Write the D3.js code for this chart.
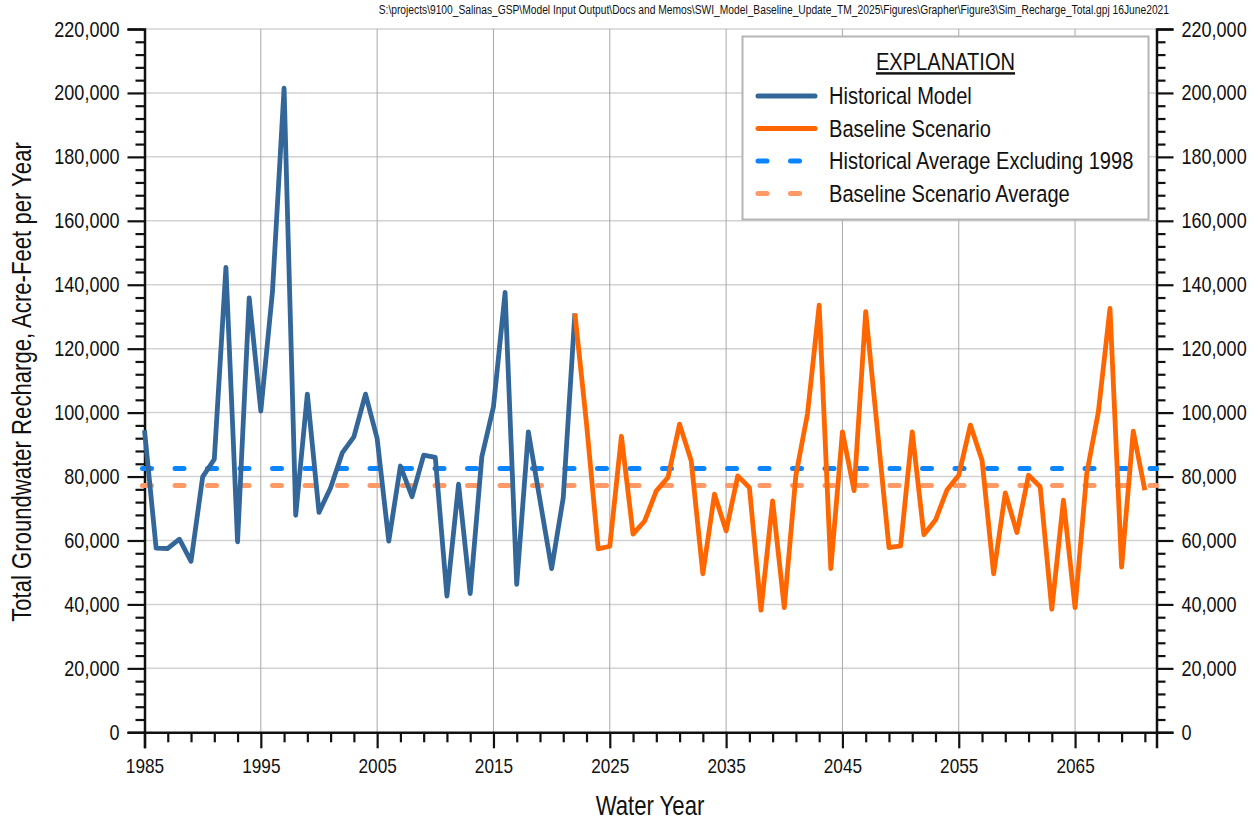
<!DOCTYPE html>
<html>
<head>
<meta charset="utf-8">
<script src="https://cdn.jsdelivr.net/npm/d3@7"></script>
<style>
body{margin:0;background:#fff;}
text{font-family:"Liberation Sans",Arial,sans-serif;fill:#111;}
</style>
</head>
<body>
<div id="chart"></div>
<script>

const histYears = d3.range(1985, 2023);
const histValues = [94500,57600,57500,60400,53500,79900,85400,145400,59600,135900,
100500,137800,201500,67900,105800,68800,76500,87400,92400,105800,
91900,59800,83300,73700,86700,86000,42600,77600,43400,86200,
101800,137600,46300,94000,72600,51200,73400,131000];

const baseYears = d3.range(2022, 2072);
const baseValues = [131000,96500,57400,58200,92600,62000,66100,75500,79700,96400,
84900,49600,74500,63000,80200,76600,38200,72400,39000,80400,
99700,133600,51200,94000,75600,131600,94800,57800,58300,94000,
61800,66400,75900,80400,96100,85100,49600,74900,62500,80400,
76800,38500,72600,39000,80900,100200,132600,51700,94200,75700];

const histAverage = 82500;
const baseAverage = 77200;

const xTicks = [1985,1995,2005,2015,2025,2035,2045,2055,2065];
const yTicks = d3.range(0, 220001, 20000);

const legendItems = [
 {label:"Historical Model", color:"#336699", dash:null},
 {label:"Baseline Scenario", color:"#ff6600", dash:null},
 {label:"Historical Average Excluding 1998", color:"#0a84ff", dash:"9,23.5"},
 {label:"Baseline Scenario Average", color:"#ff9966", dash:"9,23.5"}
];

const width = 1258;
const height = 822;

const plotLeft = 144.5, plotRight = 1156.5, plotTop = 29, plotBottom = 732.3;

// narrow look like Arial Narrow: squeeze text horizontally
const squeeze = 0.82;

const svg = d3.select("#chart")
 .append("svg")
 .attr("width", width)
 .attr("height", height);

const x = d3.scaleLinear().domain([1985, 2072]).range([plotLeft, plotRight]);
const y = d3.scaleLinear().domain([0, 220000]).range([plotBottom, plotTop]);

// GRID
svg.append("g")
 .selectAll("line")
 .data(yTicks.slice(1))
 .enter()
 .append("line")
 .attr("x1", plotLeft).attr("x2", plotRight)
 .attr("y1", d => y(d)).attr("y2", d => y(d))
 .attr("stroke", "#d2d2d2")
 .attr("stroke-width", 1.5);

svg.append("g")
 .selectAll("line")
 .data(xTicks.slice(1))
 .enter()
 .append("line")
 .attr("x1", d => x(d)).attr("x2", d => x(d))
 .attr("y1", plotTop).attr("y2", plotBottom)
 .attr("stroke", "#a8a8a8")
 .attr("stroke-width", 1);

// AXES
const fmt = d3.format(",");
const yMinor = d3.range(0, 220001, 4000).filter(d => d % 20000 !== 0);
const xMinor = d3.range(1985, 2073).filter(d => (d - 1985) % 10 !== 0 && (d - 1985) % 2 === 0);

const leftAxis = svg.append("g")
 .attr("transform", `translate(${plotLeft},0)`)
 .call(d3.axisLeft(y).tickValues(yTicks).tickFormat(fmt).tickSize(17).tickPadding(8));

const rightAxis = svg.append("g")
 .attr("transform", `translate(${plotRight},0)`)
 .call(d3.axisRight(y).tickValues(yTicks).tickFormat(fmt).tickSize(17).tickPadding(8));

const bottomAxis = svg.append("g")
 .attr("transform", `translate(0,${plotBottom})`)
 .call(d3.axisBottom(x).tickValues(xTicks).tickFormat(d3.format("d")).tickSize(16).tickPadding(10));

svg.append("g")
 .attr("transform", `translate(${plotLeft},0)`)
 .call(d3.axisLeft(y).tickValues(yMinor).tickFormat("").tickSize(9))
 .select(".domain").remove();

svg.append("g")
 .attr("transform", `translate(${plotRight},0)`)
 .call(d3.axisRight(y).tickValues(yMinor).tickFormat("").tickSize(9))
 .select(".domain").remove();

svg.append("g")
 .attr("transform", `translate(0,${plotBottom})`)
 .call(d3.axisBottom(x).tickValues(xMinor).tickFormat("").tickSize(10))
 .select(".domain").remove();

svg.selectAll(".domain").attr("stroke", "#111").attr("stroke-width", 2.5);
svg.selectAll(".tick line").attr("stroke", "#111").attr("stroke-width", 2.2);
svg.selectAll(".tick text")
 .style("font-family", "'Liberation Sans',Arial,sans-serif")
 .attr("fill", "#111");

leftAxis.selectAll(".tick text")
 .style("font-size", "22px")
 .attr("x", -25 / squeeze)
 .attr("transform", `scale(${squeeze},1)`);

rightAxis.selectAll(".tick text")
 .style("font-size", "22px")
 .attr("x", 25 / squeeze)
 .attr("transform", `scale(${squeeze},1)`);

bottomAxis.selectAll(".tick text")
 .style("font-size", "21px")
 .attr("transform", `scale(${squeeze},1)`);

// AVERAGES
svg.append("line")
 .attr("x1", x(1985) - 2).attr("x2", plotRight)
 .attr("y1", y(histAverage)).attr("y2", y(histAverage))
 .attr("stroke", "#0a84ff")
 .attr("stroke-width", 5)
 .attr("stroke-linecap", "round")
 .attr("stroke-dasharray", "9,23.5");

svg.append("line")
 .attr("x1", x(1985) - 2).attr("x2", plotRight)
 .attr("y1", y(baseAverage)).attr("y2", y(baseAverage))
 .attr("stroke", "#ff9966")
 .attr("stroke-width", 5)
 .attr("stroke-linecap", "round")
 .attr("stroke-dasharray", "9,23.5");

// LINES
const line = d3.line()
 .x(d => x(d[0]))
 .y(d => y(d[1]));

svg.append("path")
 .datum(histYears.map((yr, i) => [yr, histValues[i]]))
 .attr("d", line)
 .attr("fill", "none")
 .attr("stroke", "#336699")
 .attr("stroke-width", 4.8)
 .attr("stroke-linejoin", "round");

svg.append("path")
 .datum(baseYears.map((yr, i) => [yr, baseValues[i]]))
 .attr("d", line)
 .attr("fill", "none")
 .attr("stroke", "#ff6600")
 .attr("stroke-width", 4.8)
 .attr("stroke-linejoin", "round");

// TITLES
svg.append("text")
 .attr("x", 650 / squeeze)
 .attr("y", 815)
 .attr("transform", `scale(${squeeze},1)`)
 .attr("text-anchor", "middle")
 .style("font-size", "27px")
 .text("Water Year");

svg.append("text")
 .attr("transform", `rotate(-90) scale(${squeeze},1)`)
 .attr("x", -382 / squeeze)
 .attr("y", 31)
 .attr("text-anchor", "middle")
 .style("font-size", "27px")
 .text("Total Groundwater Recharge, Acre-Feet per Year");

svg.append("text")
 .attr("x", 1169 / squeeze)
 .attr("y", 14)
 .attr("transform", `scale(${squeeze},1)`)
 .attr("text-anchor", "end")
 .style("font-size", "12.5px")
 .text("S:\\projects\\9100_Salinas_GSP\\Model Input Output\\Docs and Memos\\SWI_Model_Baseline_Update_TM_2025\\Figures\\Grapher\\Figure3\\Sim_Recharge_Total.gpj 16June2021");

// LEGEND
const legend = svg.append("g");

legend.append("rect")
 .attr("x", 742.5).attr("y", 36.5)
 .attr("width", 406).attr("height", 183)
 .attr("fill", "#fff")
 .attr("stroke", "#b5b5b5")
 .attr("stroke-width", 2);

legend.append("text")
 .attr("x", 945.5 / squeeze)
 .attr("y", 70)
 .attr("transform", `scale(${squeeze},1)`)
 .attr("text-anchor", "middle")
 .style("font-size", "24.5px")
 .style("text-decoration", "underline")
 .text("EXPLANATION");

legend.selectAll(".item")
 .data(legendItems)
 .enter()
 .append("line")
 .attr("x1", 758).attr("x2", 815)
 .attr("y1", (d, i) => 96 + i * 32.5)
 .attr("y2", (d, i) => 96 + i * 32.5)
 .attr("stroke", d => d.color)
 .attr("stroke-width", 5)
 .attr("stroke-linecap", "round")
 .attr("stroke-dasharray", d => d.dash ? "9,23.5" : null);

legend.selectAll(".label")
 .data(legendItems)
 .enter()
 .append("text")
 .attr("x", 829 / squeeze)
 .attr("y", (d, i) => 104.5 + i * 32.5)
 .attr("transform", `scale(${squeeze},1)`)
 .style("font-size", "24.5px")
 .text(d => d.label);

</script>
</body>
</html>
